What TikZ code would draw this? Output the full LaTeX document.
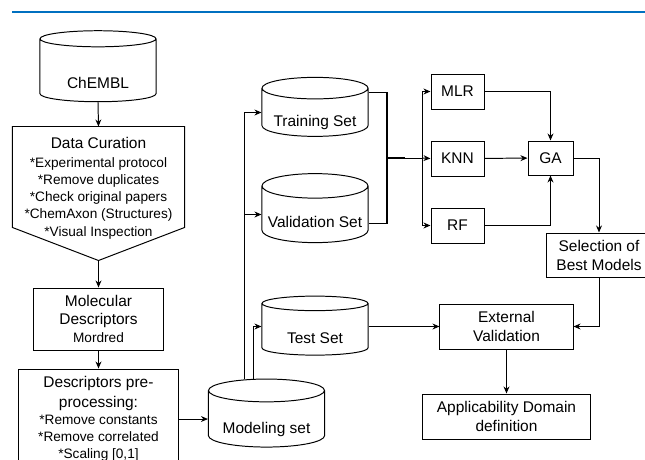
\documentclass[tikz,border=0pt]{standalone}
\usepackage{fontspec}
\setmainfont{Liberation Sans}
\usetikzlibrary{arrows.meta, positioning, shapes.geometric, calc}

\definecolor{rulebl}{RGB}{0,112,192}
\newcommand{\hdsize}{\fontsize{11}{13.5}\selectfont}
\newcommand{\ntsize}{\fontsize{9.7}{12.2}\selectfont}
% text set low in a cylinder, below its top cap
\newcommand{\dbtxt}[2][10pt]{\raisebox{-#1}[0pt][0pt]{#2}}

\begin{document}
\begin{tikzpicture}[x=0.025cm, y=-0.025cm, line width=0.7pt,
    >={Stealth[length=5pt, width=4.2pt]},
    box/.style={draw, align=center, font=\hdsize, inner sep=1pt},
    dbase/.style={draw, cylinder, shape border rotate=90, aspect=0.26,
                  font=\hdsize, inner sep=0pt},
    link/.style={->},
    trunk/.style={line width=1.4pt}]
  \useasboundingbox (0,0) rectangle (645,460);
  \clip (0,0) rectangle (645,460);

  \draw[rulebl, line width=1.8pt] (12,12) -- (645,12);

  % left column
  \node[dbase, minimum width=2.9cm, minimum height=1.775cm] (chembl) at (98,70.5) {\dbtxt[12.5pt]{ChEMBL}};
  \node[minimum width=4.275cm, minimum height=2.5cm, inner sep=0pt] (cur) at (98.5,177) {};
  \draw (cur.north west) -- (cur.north east) -- (cur.south east)
    -- ($(cur.south)+(0,33)$) coordinate (curtip) -- (cur.south west) -- cycle;
  \node[align=center, font=\ntsize, inner sep=0pt] (curtext) at ($(cur.center)+(0,11)$)
    {{\hdsize Data Curation}\\[1.5pt]
     *Experimental protocol\\
     *Remove duplicates\\
     *Check original papers\\
     *ChemAxon (Structures)\\
     *Visual Inspection};
  \node[box, minimum width=3.225cm, minimum height=1.55cm, below=0.675cm of curtip] (molec)
    {Molecular\\[-0.5pt]Descriptors\\[-0.5pt]{\ntsize Mordred}};
  \node[box, font=\ntsize, minimum width=4cm, minimum height=2.5cm, below=0.45cm of molec] (prep)
    {{\hdsize Descriptors pre-}\\[2pt]
     {\hdsize processing:}\\
     *Remove constants\\
     *Remove correlated\\
     *Scaling [0,1]};

  % data sets
  \node[dbase, minimum width=2.9cm, minimum height=1.7cm] (model) at (266.5,419) {\dbtxt{Modeling set}};
  \node[dbase, minimum width=2.65cm, minimum height=1.475cm] (train) at (315,112.5) {\dbtxt{Training Set}};
  \node[dbase, minimum width=2.65cm, minimum height=1.725cm] (valid) at (315,214.5) {\dbtxt[9.5pt]{Validation Set}};
  \node[dbase, minimum width=2.65cm, minimum height=1.475cm] (test) at (315,329.5) {\dbtxt{Test Set}};

  % models
  \node[box, minimum width=1.325cm, minimum height=0.875cm] (mlr) at (457.5,91.5) {MLR};
  \node[box, minimum width=1.325cm, minimum height=0.875cm, below=0.775cm of mlr] (knn) {KNN};
  \node[box, minimum width=1.325cm, minimum height=0.875cm, below=0.775cm of knn] (rf) {RF};
  \node[box, minimum width=1.125cm, minimum height=0.85cm] (ga) at (550.5,158) {GA};
  \node[box, minimum width=2.65cm, minimum height=1.1cm] (sel) at (599,255) {Selection of\\Best Models};
  \node[box, minimum width=3.325cm, minimum height=1.125cm] (ext) at (506.5,326.5) {External\\Validation};
  \node[box, minimum width=4.2cm, minimum height=1.125cm, below=1.1cm of ext] (appl)
    {Applicability Domain\\definition};

  % connectors
  \draw[link] (chembl.south) -- (cur.north);
  \draw[link] (curtip) -- (molec.north);
  \draw[link] (molec) -- (prep);
  \draw[link] (prep.east) -- (prep.east -| model.west);

  \coordinate (mup) at ($(model.north)+(-22.5,0)$);
  \coordinate (mup2) at ($(model.north)+(-13.5,0)$);
  \draw[link] (mup) |- (train.west);
  \draw[link] (mup) |- (valid.west);
  \draw[link] (mup2) |- ($(test.west)+(0,-3)$);

  \coordinate (jn) at (387,158);
  \coordinate (split) at (422,158);
  \draw[trunk] ($(train.east)+(0,-20)$) -| (jn) |- ($(valid.east)+(0,9)$);
  \draw (jn) -- (split);
  \draw[trunk] (jn) -- ($(jn)!0.5!(split)$);
  \draw[link] (split) |- (mlr.west);
  \draw[link] (split) -- (knn.west);
  \draw[link] (split) |- (rf.west);

  \draw[link] (mlr.east) -| (ga.north);
  \draw[link] (knn) -- (ga);
  \draw[link] (rf.east) -| (ga.south);
  \draw[link] (ga.east) -| (sel.north);
  \draw[link] (sel.south) |- (ext.east);
  \draw[link] (test.east |- ext.west) -- (ext.west);
  \draw[link] (ext) -- (appl);
\end{tikzpicture}
\end{document}
